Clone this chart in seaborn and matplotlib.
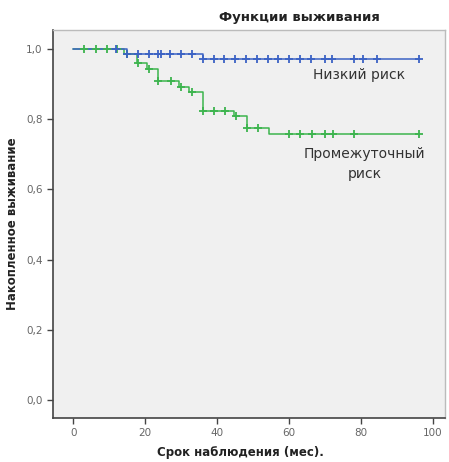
import numpy as np
import pandas as pd
import seaborn as sns
import matplotlib.pyplot as plt

# step curves: time of each step and survival level after it
low_times = [0, 15, 36, 96]
low_surv = [1.0, 0.986, 0.972, 0.972]
low_censor = [12, 15, 18, 21, 23.7, 24.5, 27, 30, 33, 36, 39, 42, 45, 48, 51,
              54, 57, 60, 63, 66, 70, 72, 78, 80.5, 84.4, 96]

mid_times = [0, 14, 17.7, 20.5, 23.7, 29.4, 32.3, 36, 44.8, 48.2, 54.3, 96]
mid_surv = [1.0, 0.986, 0.96, 0.943, 0.909, 0.892, 0.877, 0.823, 0.808, 0.775,
            0.758, 0.758]
mid_censor = [3, 6.4, 9.4, 12.2, 15, 18, 21, 23.7, 27.2, 30, 33, 36, 39, 42.2,
              45.2, 48.2, 51.4, 60, 63, 66.3, 70, 72.3, 78, 96]

groups = ['Низкий риск', 'Промежуточный\nриск']
colors = {'Низкий риск': '#3b62c4', 'Промежуточный\nриск': '#3cb44e'}
label_pos = {'Низкий риск': (79.5, 0.926), 'Промежуточный\nриск': (81, 0.672)}


def censor_levels(times, surv, censor):
    idx = np.searchsorted(times, censor, side='right') - 1
    return np.array(surv)[idx]


steps = pd.concat([
    pd.DataFrame({'t': mid_times, 's': mid_surv, 'g': groups[1]}),
    pd.DataFrame({'t': low_times, 's': low_surv, 'g': groups[0]}),
])
marks = pd.concat([
    pd.DataFrame({'t': mid_censor, 's': censor_levels(mid_times, mid_surv, mid_censor), 'g': groups[1]}),
    pd.DataFrame({'t': low_censor, 's': censor_levels(low_times, low_surv, low_censor), 'g': groups[0]}),
])

sns.set_style('white')
plt.rcParams['font.family'] = ['DejaVu Sans']

fig = plt.figure(figsize=(4.49, 4.62), dpi=100)
ax = fig.add_axes([0.118, 0.0952, 0.873, 0.8398])
ax.set_facecolor('#f0f0f0')

for g in [groups[1], groups[0]]:
    sub = steps[steps.g == g]
    sns.lineplot(data=sub, x='t', y='s', ax=ax, color=colors[g], lw=1.1,
                 drawstyle='steps-post', estimator=None, sort=False, legend=False)
    m = marks[marks.g == g]
    sns.scatterplot(data=m, x='t', y='s', ax=ax, color=colors[g], marker='+',
                    s=40, linewidth=1.3, legend=False, zorder=3)
    tx, ty = label_pos[g]
    ax.text(tx, ty, g, ha='center', va='center', fontsize=10, color='#333333',
            linespacing=1.5)

ax.set_xlim(-5.6, 103.3)
ax.set_ylim(-0.051, 1.054)
ax.set_xticks([0, 20, 40, 60, 80, 100])
ax.set_yticks([0, 0.2, 0.4, 0.6, 0.8, 1.0])
ax.set_yticklabels([f'{v:.1f}'.replace('.', ',') for v in ax.get_yticks()])
ax.tick_params(axis='both', direction='out', length=4, width=1, colors='#444444',
               labelsize=7.5, labelcolor='#666666', left=True, bottom=True)

for side in ['left', 'bottom']:
    ax.spines[side].set_color('#444444')
    ax.spines[side].set_linewidth(1.2)
for side in ['top', 'right']:
    ax.spines[side].set_color('#bbbbbb')
    ax.spines[side].set_linewidth(1.0)

ax.set_xlabel('Срок наблюдения (мес).', fontsize=8.5, fontweight='bold',
              color='#222222', va='center')
ax.set_ylabel('Накопленное выживание', fontsize=8.5, fontweight='bold',
              color='#222222')
ax.xaxis.set_label_coords(0.477, -0.088)
ax.yaxis.set_label_coords(-0.087, 0.5)
fig.text(0.668, 0.962, 'Функции выживания', ha='center', va='center',
         fontsize=9.5, fontweight='bold', color='#222222')

fig.savefig('out.png', dpi=100, facecolor='white')
plt.close()
